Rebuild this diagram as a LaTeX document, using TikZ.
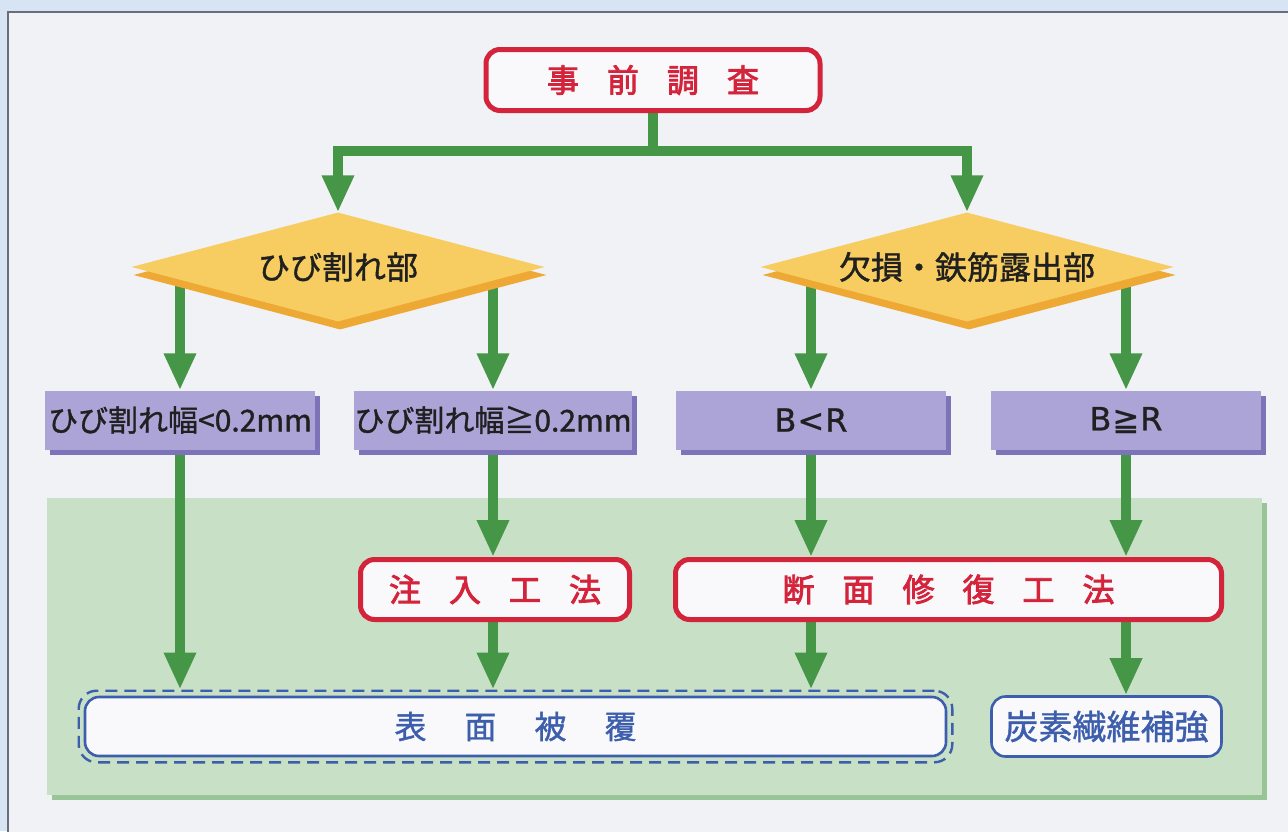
\documentclass[tikz,border=0pt]{standalone}
\usepackage{fontspec}
\newfontfamily\jp{Noto Sans CJK JP}
\newfontfamily\jpb[FakeBold=2.6]{Noto Sans CJK JP}
\newfontfamily\jpm[FakeBold=1.2]{Noto Sans CJK JP}
\newfontfamily\lat[FakeBold=0.8]{DejaVu Sans}
\usetikzlibrary{arrows.meta,shapes.geometric,shadows,fit}
\definecolor{outerblue}{RGB}{214,228,244}
\definecolor{framegray}{RGB}{105,110,120}
\definecolor{paper}{RGB}{241,242,246}
\definecolor{areagreen}{RGB}{200,224,198}
\definecolor{areashadow}{RGB}{152,197,150}
\definecolor{arrowgreen}{RGB}{70,150,72}
\definecolor{redc}{RGB}{212,36,60}
\definecolor{boxwhite}{RGB}{249,249,251}
\definecolor{purp}{RGB}{172,164,214}
\definecolor{purpsh}{RGB}{125,115,185}
\definecolor{diamy}{RGB}{247,204,96}
\definecolor{diamsh}{RGB}{238,168,52}
\definecolor{bluec}{RGB}{60,94,172}
\definecolor{textdark}{RGB}{32,32,32}
\pgfdeclarelayer{back}
\pgfdeclarelayer{mid}
\pgfsetlayers{back,mid,main}
\tikzset{
  redbox/.style={draw=redc, line width=5pt, rounded corners=14pt, fill=boxwhite,
    text=redc, font=\jpb\fontsize{32}{38}\selectfont, inner sep=0pt},
  purpbox/.style={fill=purp, minimum width=270pt, minimum height=59pt, inner sep=0pt,
    text=textdark, font=\jpm\fontsize{30}{34}\selectfont,
    drop shadow={opacity=1, fill=purpsh, shadow xshift=5pt, shadow yshift=-5pt}},
  decision/.style={diamond, fill=diamy, minimum width=413pt, minimum height=109pt,
    inner sep=0pt, shape aspect=3.8, text=textdark, font=\jpm\fontsize{32}{38}\selectfont,
    drop shadow={opacity=1, fill=diamsh, shadow xshift=2pt, shadow yshift=-8pt}},
  bluebox/.style={draw=bluec, line width=2.6pt, rounded corners=14pt, fill=boxwhite,
    text=bluec, font=\jpm\fontsize{32}{38}\selectfont, inner sep=0pt},
  dashbox/.style={draw=bluec, line width=2.4pt, rounded corners=18pt, dash pattern=on 12pt off 7pt},
  gline/.style={draw=arrowgreen, line width=10pt},
  garrow/.style={draw=arrowgreen, line width=10pt, -{Triangle[width=30pt,length=37pt]}},
}
\begin{document}
\begin{tikzpicture}[x=1pt,y=-1pt]
\useasboundingbox (0,0) rectangle (1288,831);
\begin{pgfonlayer}{back}
  \fill[outerblue] (0,0) rectangle (1288,831);
  \draw[framegray, line width=2pt, fill=paper] (8,12) rectangle (1300,845);
  \fill[areashadow] (52,503) rectangle (1267,800);
  \fill[areagreen] (47,498) rectangle (1262,795);
\end{pgfonlayer}

% nodes
\node[redbox, minimum width=334pt, minimum height=61pt] (survey) at (653,80)
  {事\hspace{28pt}前\hspace{28pt}調\hspace{28pt}査};

\node[decision] (d1) at (338,267) {ひび割れ部};
\node[decision] (d2) at (967,267) {欠損・鉄筋露出部};

\node[purpbox] (b1) at (180,420) {ひび割れ幅<0.2mm};
\node[purpbox] (b2) at (493,420) {ひび割れ幅≧0.2mm};
\node[purpbox, font=\lat\fontsize{32}{34}\selectfont] (b3) at (811,420) {B\hspace{1pt}<\hspace{1pt}R};
\node[purpbox, font=\lat\fontsize{32}{34}\selectfont] (b4) at (1126,420) {B\hspace{1pt}≧\hspace{1pt}R};

\node[redbox, minimum width=269pt, minimum height=60pt] (m1) at (495,589.5)
  {注\hspace{28pt}入\hspace{28pt}工\hspace{28pt}法};
\node[redbox, minimum width=546pt, minimum height=60pt] (m2) at (948.5,589.5)
  {断\hspace{28pt}面\hspace{28pt}修\hspace{28pt}復\hspace{28pt}工\hspace{28pt}法};

\node[bluebox, minimum width=861pt, minimum height=59pt] (sv) at (515.5,726.5)
  {表\hspace{38pt}面\hspace{38pt}被\hspace{38pt}覆};
\node[dashbox, fit=(sv), inner sep=5pt] (svo) {};
\node[bluebox, minimum width=230pt, minimum height=60pt, font=\jpm\fontsize{34}{38}\selectfont] (cf) at (1106.5,726.5)
  {炭素繊維補強};

% connectors
\begin{pgfonlayer}{mid}
  \coordinate (jt) at (653,151);
  \draw[gline] (survey.south) -- (jt);
  \draw[garrow] ([xshift=5pt]jt) -| (d1.north);
  \draw[garrow] ([xshift=-5pt]jt) -| (d2.north);
  \draw[garrow] (b1.north |- d1.center) -- (b1.north);
  \draw[garrow] (b2.north |- d1.center) -- (b2.north);
  \draw[garrow] (b3.north |- d2.center) -- (b3.north);
  \draw[garrow] (b4.north |- d2.center) -- (b4.north);
  \draw[garrow] (b1.south) -- (b1.south |- svo.north);
  \draw[garrow] (b2.south) -- (b2.south |- m1.north);
  \draw[garrow] (b3.south) -- (b3.south |- m2.north);
  \draw[garrow] (b4.south) -- (b4.south |- m2.north);
  \draw[garrow] (m1.south -| b2.south) -- (b2.south |- svo.north);
  \draw[garrow] (m2.south -| b3.south) -- (b3.south |- svo.north);
  \draw[garrow] (m2.south -| b4.south) -- (b4.south |- cf.north);
\end{pgfonlayer}
\end{tikzpicture}
\end{document}
